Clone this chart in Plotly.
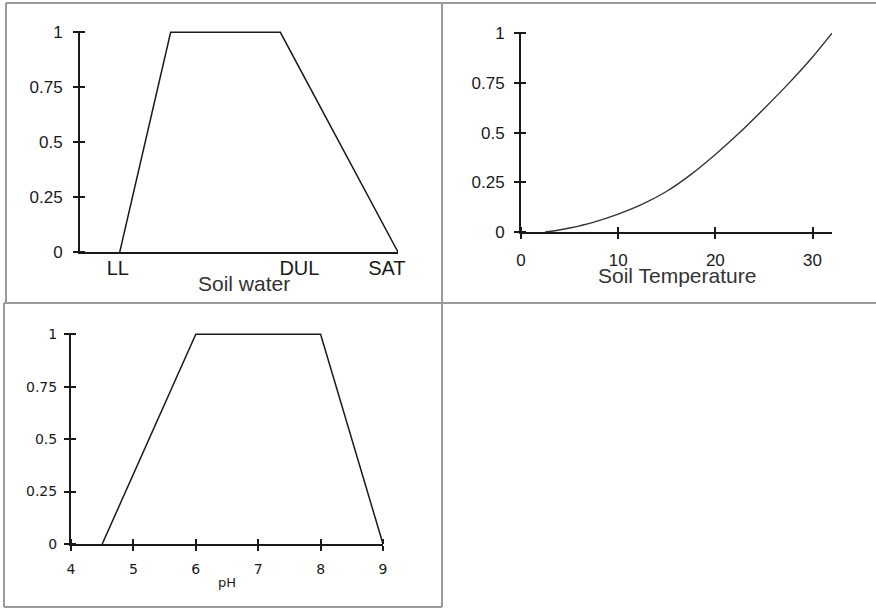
import plotly.graph_objects as go

# ---------------- data ----------------
# Panel 1: soil water membership (x in relative units, 0..100 along axis)
water_x = [12.5, 28.5, 63.0, 100.0]
water_y = [0, 1, 1, 0]
water_tick_pos = [11.9, 69.0, 96.5]
water_tick_text = ["LL", "DUL", "SAT"]

# Panel 2: soil temperature membership
temp_x = [2.5, 3.5, 5, 7.5, 10, 12.5, 15, 17.5, 20, 22.5, 25, 27.5, 30, 32]
temp_y = [0.0, 0.006, 0.02, 0.05, 0.09, 0.14, 0.205, 0.29, 0.39, 0.50, 0.62, 0.745, 0.88, 1.0]
temp_ticks = [0, 10, 20, 30]

# Panel 3: pH membership
ph_x = [4.5, 6, 8, 9]
ph_y = [0, 1, 1, 0]
ph_ticks = [4, 5, 6, 7, 8, 9]

y_ticks = [0, 0.25, 0.5, 0.75, 1]
y_tick_text = ["0", "0.25", "0.5", "0.75", "1"]

W, H = 876, 608
FONT = "Liberation Sans, Arial, sans-serif"
FONT3 = "DejaVu Sans, Verdana, sans-serif"
INK = "#1a1a1a"


def px(x):
    return x / W


def py(y):
    return 1 - y / H


fig = go.Figure()
fig.add_trace(go.Scatter(x=water_x, y=water_y, mode="lines", xaxis="x", yaxis="y",
                         line=dict(color=INK, width=1.5), showlegend=False, hoverinfo="skip"))
fig.add_trace(go.Scatter(x=temp_x, y=temp_y, mode="lines", xaxis="x2", yaxis="y2",
                         line=dict(color="#333333", width=1.4, shape="spline", smoothing=0.8),
                         showlegend=False, hoverinfo="skip"))
fig.add_trace(go.Scatter(x=ph_x, y=ph_y, mode="lines", xaxis="x3", yaxis="y3",
                         line=dict(color=INK, width=1.5), showlegend=False, hoverinfo="skip"))

eps = 1e-6


def yaxis(domain, anchor, family, size, standoff):
    return dict(domain=domain, anchor=anchor, range=[0, 1.006], showgrid=False, zeroline=False,
                showline=True, linecolor=INK, linewidth=2, automargin=False,
                tickmode="array", tickvals=y_ticks, ticktext=y_tick_text,
                ticks="outside", ticklen=5, tickwidth=2, tickcolor=INK,
                minor=dict(tickmode="array", tickvals=[v + eps for v in y_ticks], ticks="inside",
                           ticklen=5, tickwidth=2, tickcolor=INK),
                ticklabelstandoff=standoff,
                tickfont=dict(family=family, size=size, color=INK))


def xaxis(domain, anchor, rng, vals, text, family, size, standoff, ticks=True):
    d = dict(domain=domain, anchor=anchor, range=rng, showgrid=False, zeroline=False,
             showline=True, linecolor=INK, linewidth=2, automargin=False,
             tickmode="array", tickvals=vals, ticktext=text,
             ticklabelstandoff=standoff,
             tickfont=dict(family=family, size=size, color=INK))
    if ticks:
        d.update(ticks="outside", ticklen=5, tickwidth=2, tickcolor=INK,
                 minor=dict(tickmode="array", tickvals=[v + eps for v in vals], ticks="inside",
                            ticklen=5, tickwidth=2, tickcolor=INK))
    else:
        d.update(ticks="")
    return d


# pixel geometry
p1x = [px(80), px(398)]
p1y = [py(252), py(31)]
p2x = [px(521), px(832)]
p2y = [py(232), py(32)]
p3x = [px(71), px(383)]
p3y = [py(544), py(333)]

layout = dict(
    width=W, height=H, autosize=False,
    margin=dict(l=0, r=0, t=0, b=0, pad=0, autoexpand=False),
    paper_bgcolor="white", plot_bgcolor="white",
    xaxis=xaxis(p1x, "y", [0, 100], water_tick_pos, water_tick_text, FONT, 20, -3, ticks=False),
    yaxis=yaxis(p1y, "x", FONT, 17, 7),
    xaxis2=xaxis(p2x, "y2", [0, 32], temp_ticks, [str(v) for v in temp_ticks], FONT, 17, 7),
    yaxis2=yaxis(p2y, "x2", FONT, 17, 6),
    xaxis3=xaxis(p3x, "y3", [4, 9], ph_ticks, [str(v) for v in ph_ticks], FONT3, 14, 6),
    yaxis3=yaxis(p3y, "x3", FONT3, 14, 4),
)
fig.update_layout(**layout)

# axis titles
fig.add_annotation(text="Soil water", x=px(244), y=py(283), xref="paper", yref="paper",
                   xanchor="center", yanchor="middle",
                   showarrow=False, font=dict(family=FONT, size=21, color="#333333"))
fig.add_annotation(text="Soil Temperature", x=px(677), y=py(275), xref="paper", yref="paper",
                   xanchor="center", yanchor="middle",
                   showarrow=False, font=dict(family=FONT, size=21, color="#333333"))
fig.add_annotation(text="pH", x=px(227), y=py(582), xref="paper", yref="paper",
                   xanchor="center", yanchor="middle",
                   showarrow=False, font=dict(family=FONT3, size=13, color=INK))

# panel frame lines
GRAY = "#9a9a9a"
frame = [
    (6, 3, 876, 3),
    (6, 3, 6, 303),
    (442, 3, 442, 607),
    (4, 303, 876, 303),
    (4, 303, 4, 607),
    (4, 607, 442, 607),
]
for x0, y0, x1, y1 in frame:
    fig.add_shape(type="line", xref="paper", yref="paper",
                  x0=px(x0), y0=py(y0), x1=px(x1), y1=py(y1),
                  line=dict(color=GRAY, width=2))

fig.write_html("out.html", config={"displayModeBar": False},
               post_script="document.body.style.margin='0';document.body.style.overflow='hidden';")
